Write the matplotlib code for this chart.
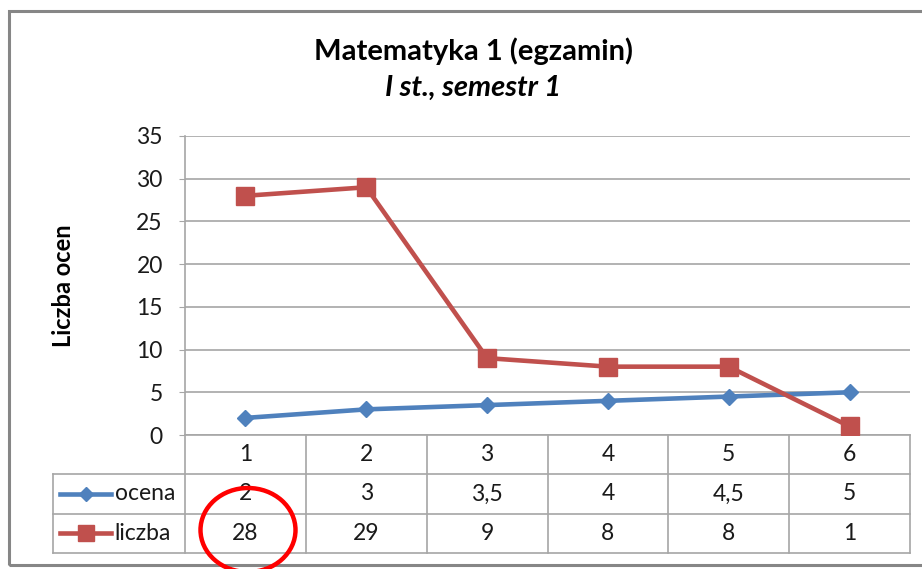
import matplotlib
matplotlib.use('Agg')
import matplotlib.pyplot as plt
from matplotlib.patches import Ellipse, Rectangle
from matplotlib.lines import Line2D
import matplotlib.transforms as mtransforms

plt.rcParams['font.family'] = ['Lato', 'DejaVu Sans']

# data
categories = [1, 2, 3, 4, 5, 6]
ocena = [2, 3, 3.5, 4, 4.5, 5]
liczba = [28, 29, 9, 8, 8, 1]
series_names = ['ocena', 'liczba']
yticks = [0, 5, 10, 15, 20, 25, 30, 35]

blue = '#4F81BD'
red = '#C0504D'
grid_col = '#A6A6A6'
txt = '#1a1a1a'
fs = 16.5

W, H = 922, 569
fig = plt.figure(figsize=(W / 100, H / 100), dpi=100)

# plot area in pixels
left, right, top, bottom = 185, 910, 136, 435
ax = fig.add_axes([left / W, 1 - bottom / H, (right - left) / W, (bottom - top) / H])

ax.plot(categories, ocena, color=blue, lw=3.3, marker='D', ms=8.5, zorder=3)
ax.plot(categories, liczba, color=red, lw=3.3, marker='s', ms=13.5, zorder=3)

ax.set_xlim(0.5, len(categories) + 0.5)
ax.set_ylim(0, 35)
ax.set_yticks(yticks)
ax.set_yticklabels([str(v) for v in yticks], fontsize=fs, color=txt)
ax.set_xticks([])
ax.tick_params(axis='y', length=4, color=grid_col, pad=12)
ax.yaxis.grid(True, color=grid_col, lw=1.2)
ax.set_axisbelow(True)
for s in ['top', 'right']:
    ax.spines[s].set_visible(False)
ax.spines['left'].set_color(grid_col)
ax.spines['bottom'].set_color(grid_col)
ax.spines['left'].set_linewidth(1.2)
ax.spines['bottom'].set_linewidth(1.2)

ax.set_ylabel('Liczba ocen', fontsize=17, fontweight='bold', labelpad=44)

# data table below the plot (x in data, y in axes fraction)
row_h = 39.3 / (bottom - top)
trans = mtransforms.blended_transform_factory(ax.transData, ax.transAxes)
x0 = 0.5 - (left - 53) / ((right - left) / len(categories))  # left edge of the legend column
xr = len(categories) + 0.5

def hline(y, xa, xb):
    ax.add_line(Line2D([xa, xb], [y, y], transform=trans, color=grid_col, lw=1.2, clip_on=False))

def vline(x, ya, yb):
    ax.add_line(Line2D([x, x], [ya, yb], transform=trans, color=grid_col, lw=1.2, clip_on=False))

hline(-row_h, x0, xr)
hline(-2 * row_h, x0, xr)
hline(-3 * row_h, x0, xr)
vline(x0, -row_h, -3 * row_h)
for i in range(len(categories) + 1):
    vline(0.5 + i, 0, -3 * row_h)

for i, c in enumerate(categories):
    ax.text(c, -0.5 * row_h, str(c), transform=trans, ha='center', va='center', fontsize=fs, color=txt)
    ax.text(c, -1.5 * row_h, f'{ocena[i]:g}'.replace('.', ','), transform=trans,
            ha='center', va='center', fontsize=fs, color=txt)
    ax.text(c, -2.5 * row_h, f'{liczba[i]:g}', transform=trans,
            ha='center', va='center', fontsize=fs, color=txt)

# legend keys inside the table
key_a = x0 + 0.06
key_b = x0 + 0.48
for k, (name, col, mk, ms) in enumerate([(series_names[0], blue, 'D', 7.5), (series_names[1], red, 's', 11.5)]):
    yk = -(1.5 + k) * row_h
    ax.add_line(Line2D([key_a, key_b], [yk, yk], transform=trans, color=col, lw=3.3, clip_on=False))
    ax.add_line(Line2D([(key_a + key_b) / 2], [yk], transform=trans, color=col, marker=mk, ms=ms,
                       clip_on=False))
    ax.text(key_b + 0.03, yk, name, transform=trans, ha='left', va='center', fontsize=fs, color=txt)

# titles
fig.text(473 / W, 1 - 51 / H, 'Matematyka 1 (egzamin)', ha='center', va='center',
         fontsize=21, fontweight='bold')
fig.text(473 / W, 1 - 88 / H, 'I st., semestr 1', ha='center', va='center',
         fontsize=21, fontweight='bold', style='italic')

# outer chart border
fig.add_artist(Rectangle((9 / W, 1 - 565 / H), 1.0, (565 - 11) / H, transform=fig.transFigure,
                         fill=False, edgecolor='#868686', lw=2.2))

# red highlight ellipse
fig.add_artist(Ellipse((248 / W, 1 - 530 / H), 95 / W, 84 / H, transform=fig.transFigure,
                       fill=False, edgecolor='#FF0000', lw=3.2, zorder=10))

fig.savefig('out.png', dpi=100)
